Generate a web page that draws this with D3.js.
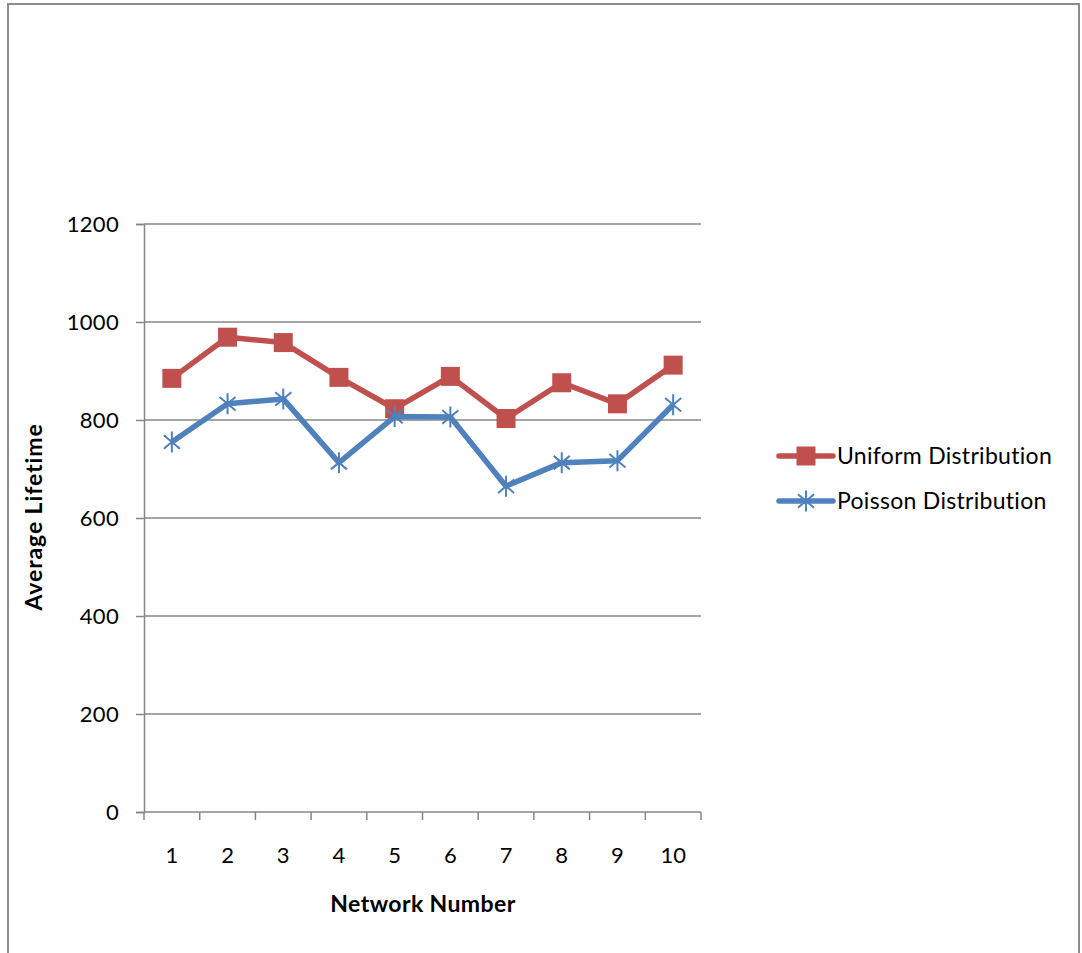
<!DOCTYPE html>
<html>
<head>
<meta charset="utf-8">
<script src="https://cdn.jsdelivr.net/npm/d3@7"></script>
<style>
  html, body { margin: 0; padding: 0; background: #fff; }
  svg { display: block; }
  text { font-family: Lato, "Open Sans", "Liberation Sans", sans-serif; fill: #000; }
</style>
</head>
<body>
<svg id="chart" width="1082" height="953"></svg>
<script>
// Network numbers on the x axis
const networks = [1, 2, 3, 4, 5, 6, 7, 8, 9, 10];
// Average lifetime per network
const uniformValues = [885, 969, 958, 887, 823, 889, 803, 876, 833, 912];
const poissonValues = [755, 833, 843, 713, 807, 806, 665, 713, 717, 831];
const seriesNames = ["Uniform Distribution", "Poisson Distribution"];
const seriesColors = ["#C0504D", "#4F81BD"];
const yTicks = [0, 200, 400, 600, 800, 1000, 1200];

const svg = d3.select("#chart");

// outer chart frame
svg.append("rect")
  .attr("x", 8).attr("y", 4)
  .attr("width", 1071).attr("height", 980)
  .attr("fill", "none").attr("stroke", "#8c8c8c").attr("stroke-width", 2);

const plot = { left: 144, right: 701, top: 224, bottom: 812 };

const x = d3.scaleBand().domain(networks).range([plot.left, plot.right]);
const y = d3.scaleLinear().domain([0, 1200]).range([plot.bottom, plot.top]);

// horizontal gridlines
svg.append("g").selectAll("line").data(yTicks.filter(d => d > 0)).join("line")
  .attr("x1", plot.left).attr("x2", plot.right)
  .attr("y1", d => y(d)).attr("y2", d => y(d))
  .attr("stroke", "#878787").attr("stroke-width", 1.5);

// y axis
const yAxis = svg.append("g")
  .attr("transform", `translate(${plot.left},0)`)
  .call(d3.axisLeft(y).tickValues(yTicks).tickSize(8).tickPadding(17).tickFormat(d3.format("d")));
yAxis.select(".domain").attr("stroke", "#878787").attr("stroke-width", 1.5);
yAxis.selectAll(".tick line").attr("stroke", "#878787").attr("stroke-width", 1.5);
yAxis.selectAll(".tick text")
  .style("font-size", "22px").style("letter-spacing", "0.3px")
  .style("font-family", "Lato, 'Open Sans', sans-serif").attr("fill", "#000");

// x axis with tick marks at band boundaries
const xAxisG = svg.append("g").attr("transform", `translate(0,${plot.bottom})`);
xAxisG.append("line")
  .attr("x1", plot.left).attr("x2", plot.right)
  .attr("stroke", "#878787").attr("stroke-width", 1.5);
const boundaries = networks.map(d => x(d)).concat([x(networks[networks.length - 1]) + x.bandwidth()]);
xAxisG.selectAll("line.tk").data(boundaries).join("line").attr("class", "tk")
  .attr("x1", d => d).attr("x2", d => d).attr("y1", 0).attr("y2", 8)
  .attr("stroke", "#878787").attr("stroke-width", 1.5);
xAxisG.selectAll("text").data(networks).join("text")
  .attr("x", d => x(d) + x.bandwidth() / 2)
  .attr("y", 51)
  .attr("text-anchor", "middle")
  .style("font-size", "22px")
  .text(d => d);

// axis titles
svg.append("text")
  .attr("x", 423).attr("y", 912)
  .attr("text-anchor", "middle")
  .style("font-size", "23px").style("font-weight", "bold").style("letter-spacing", "0.4px")
  .text("Network Number");
svg.append("text")
  .attr("transform", "translate(42,517) rotate(-90)")
  .attr("text-anchor", "middle")
  .style("font-size", "23px").style("font-weight", "bold").style("letter-spacing", "0.9px")
  .text("Average Lifetime");

const cx = d => x(d) + x.bandwidth() / 2;
const line = d3.line().x(d => cx(d.n)).y(d => y(d.v));

const series = [uniformValues, poissonValues].map((vals, i) => ({
  name: seriesNames[i], color: seriesColors[i],
  points: networks.map((n, j) => ({ n, v: vals[j] }))
}));

function starPath(s) {
  // asterisk: vertical bar plus two diagonals
  const a = s / 2;
  const ang = 40 * Math.PI / 180;
  const dx = a * Math.cos(ang), dy = a * Math.sin(ang);
  return `M0,${-a}L0,${a}M${-dx},${-dy}L${dx},${dy}M${-dx},${dy}L${dx},${-dy}`;
}

series.forEach((s, i) => {
  svg.append("path")
    .attr("d", line(s.points))
    .attr("fill", "none").attr("stroke", s.color)
    .attr("stroke-width", 5.5).attr("stroke-linejoin", "round");
  const g = svg.append("g");
  if (i === 0) {
    g.selectAll("rect").data(s.points).join("rect")
      .attr("x", d => cx(d.n) - 9.5).attr("y", d => y(d.v) - 9.5)
      .attr("width", 19).attr("height", 19)
      .attr("fill", s.color);
  } else {
    g.selectAll("path").data(s.points).join("path")
      .attr("transform", d => `translate(${cx(d.n)},${y(d.v)})`)
      .attr("d", starPath(21))
      .attr("fill", "none").attr("stroke", s.color).attr("stroke-width", 2);
  }
});

// legend
const legend = svg.append("g");
series.forEach((s, i) => {
  const ly = 456 + i * 45;
  legend.append("line")
    .attr("x1", 779).attr("x2", 833).attr("y1", ly).attr("y2", ly)
    .attr("stroke", s.color).attr("stroke-width", 5.5).attr("stroke-linecap", "round");
  if (i === 0) {
    legend.append("rect").attr("x", 806 - 9.5).attr("y", ly - 9.5)
      .attr("width", 19).attr("height", 19).attr("fill", s.color);
  } else {
    legend.append("path").attr("transform", `translate(806,${ly})`)
      .attr("d", starPath(21)).attr("fill", "none")
      .attr("stroke", s.color).attr("stroke-width", 2);
  }
  legend.append("text")
    .attr("x", 837).attr("y", ly + 8)
    .style("font-size", "23px").style("letter-spacing", "0.3px")
    .text(s.name);
});
</script>
</body>
</html>
